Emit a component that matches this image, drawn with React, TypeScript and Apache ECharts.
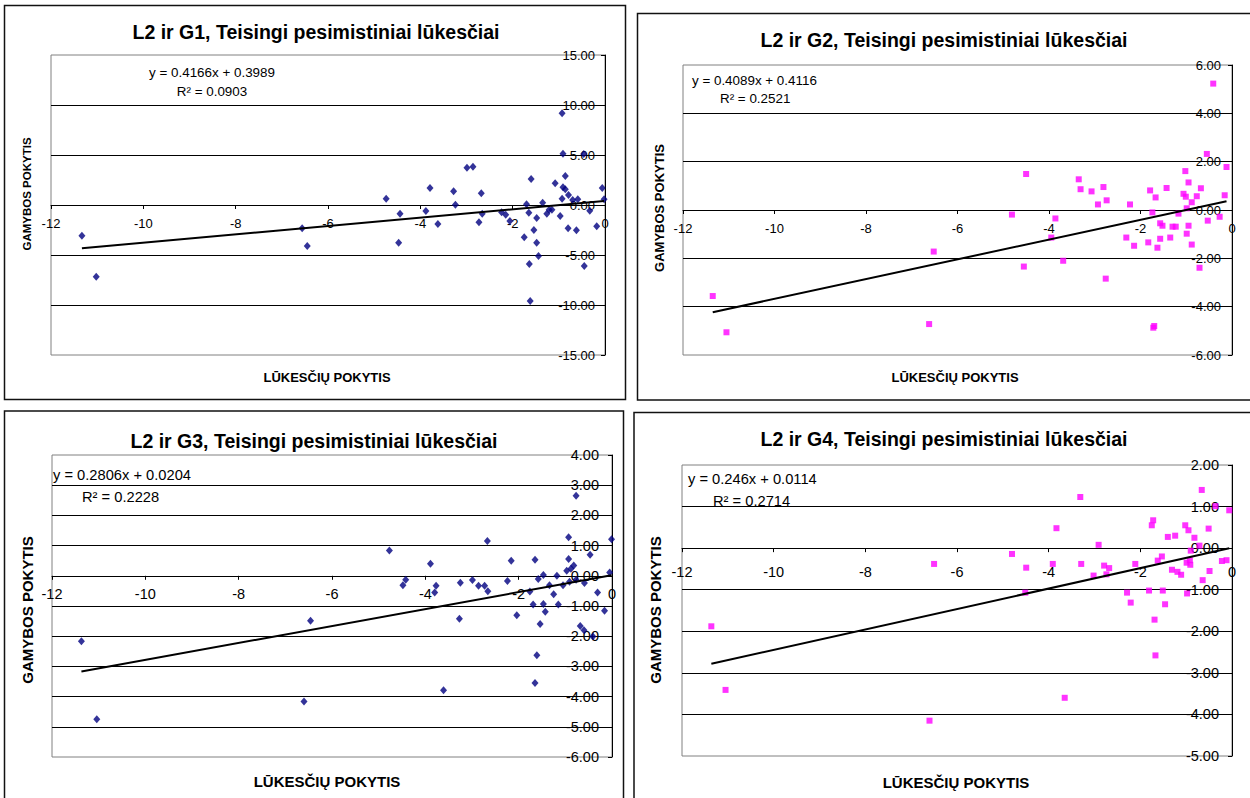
import React, { useEffect, useRef } from "react";
import * as echarts from "echarts";

// ---------------- DATA ----------------
const xMin = -12;
const xMax = 0;
const xInterval = 2;

const titles = [
  "L2 ir G1, Teisingi pesimistiniai lūkesčiai",
  "L2 ir G2, Teisingi pesimistiniai lūkesčiai",
  "L2 ir G3, Teisingi pesimistiniai lūkesčiai",
  "L2 ir G4, Teisingi pesimistiniai lūkesčiai",
];
const xAxisName = "LŪKESČIŲ POKYTIS";
const yAxisName = "GAMYBOS POKYTIS";

const equations = [
  "y = 0.4166x + 0.3989",
  "y = 0.4089x + 0.4116",
  "y = 0.2806x + 0.0204",
  "y = 0.246x + 0.0114",
];
const rSquared = ["R² = 0.0903", "R² = 0.2521", "R² = 0.2228", "R² = 0.2714"];
const slopes = [0.4166, 0.4089, 0.2806, 0.246];
const intercepts = [0.3989, 0.4116, 0.0204, 0.0114];

const yMins = [-15, -6, -6, -5];
const yMaxs = [15, 6, 4, 2];
const yIntervals = [5, 2, 1, 1];

const g1Points: [number, number][] = [
  [-11.33, -3.07], [-11.02, -7.17], [-6.56, -2.33], [-6.45, -4.1], [-4.74, 0.63],
  [-4.44, -0.87], [-4.47, -3.77], [-3.79, 1.7], [-3.88, -0.6], [-3.62, -1.9],
  [-3.28, 1.37], [-3.24, 0.03], [-2.99, 3.73], [-2.86, 3.83], [-2.68, 1.17],
  [-2.73, -1.73], [-2.66, -0.87], [-2.24, -0.73], [-2.15, -0.97], [-2.06, -1.6],
  [-1.75, -3.23], [-1.7, 0.07], [-1.6, 2.6], [-1.65, -0.77], [-1.54, -2.5],
  [-1.48, -1.3], [-1.48, -3.77], [-1.44, -5.1], [-1.64, -5.9], [-1.62, -9.6],
  [-1.35, 0.23], [-1.26, -0.87], [-1.21, -0.47], [-1.15, -0.47], [-1.08, 2.17],
  [-0.97, -1.1], [-0.93, 9.17], [-0.91, 5.13], [-0.91, 1.77], [-0.86, 1.57],
  [-0.86, 2.9], [-0.93, 0.63], [-0.79, 1.0], [-0.8, -2.33], [-0.7, 0.5],
  [-0.59, 0.57], [-0.62, -2.53], [-0.46, 5.1], [-0.45, -6.1], [-0.33, -0.57],
  [-0.18, -2.13], [-0.06, 1.7], [-0.02, 0.57],
];

const g2Points: [number, number][] = [
  [-11.35, -3.56], [-11.05, -5.06], [-6.52, -1.72], [-6.62, -4.72], [-4.81, -0.19],
  [-4.5, 1.49], [-4.55, -2.34], [-3.95, -1.14], [-3.86, -0.35], [-3.69, -2.1],
  [-3.35, 1.27], [-3.31, 0.86], [-3.07, 0.77], [-2.93, 0.23], [-2.81, 0.95],
  [-2.74, 0.4], [-2.76, -2.84], [-2.31, -1.14], [-2.23, 0.23], [-2.14, -1.48],
  [-1.83, -1.34], [-1.79, 0.81], [-1.74, -0.1], [-1.67, 0.52], [-1.63, -1.56],
  [-1.72, -4.87], [-1.7, -4.8], [-1.57, -0.55], [-1.52, -0.65], [-1.57, -1.19],
  [-1.43, 0.91], [-1.35, -1.14], [-1.3, -0.69], [-1.23, -0.69], [-1.17, -0.15],
  [-1.06, 0.67], [-1.02, 1.61], [-1.01, 0.55], [-0.99, 0.07], [-0.99, -0.98],
  [-0.95, 1.14], [-0.95, -0.65], [-0.88, 0.32], [-0.88, -1.43], [-0.77, 0.57],
  [-0.68, 0.9], [-0.71, -2.39], [-0.55, 2.32], [-0.53, -0.44], [-0.41, 5.23],
  [-0.27, -0.28], [-0.16, 0.61], [-0.12, 1.78],
];

const g3Points: [number, number][] = [
  [-11.37, -2.17], [-11.04, -4.75], [-6.46, -1.49], [-6.6, -4.16], [-4.77, 0.84],
  [-4.48, -0.31], [-4.42, -0.13], [-3.89, 0.4], [-3.8, -0.55], [-3.77, -0.33],
  [-3.61, -3.79], [-3.27, -1.42], [-3.25, -0.23], [-2.99, -0.14], [-2.86, -0.33],
  [-2.73, -0.33], [-2.66, -0.51], [-2.67, 1.15], [-2.24, -0.17], [-2.16, 0.5],
  [-2.04, -1.31], [-1.76, -0.52], [-1.69, -0.95], [-1.65, 0.53], [-1.65, -3.55],
  [-1.61, -2.63], [-1.58, -0.11], [-1.54, -1.6], [-1.47, 0.03], [-1.47, -0.93],
  [-1.43, -1.19], [-1.34, -0.31], [-1.25, -0.61], [-1.18, 0.0], [-1.15, -0.95],
  [-1.05, -0.31], [-0.97, 0.17], [-0.93, 1.28], [-0.93, 0.56], [-0.91, -0.2],
  [-0.88, 0.23], [-0.82, 0.34], [-0.77, 2.65], [-0.77, -0.13], [-0.68, -1.66],
  [-0.6, -1.8], [-0.59, -0.24], [-0.47, 0.7], [-0.41, -2.01], [-0.31, -0.55],
  [-0.16, -1.16], [-0.05, 0.11], [-0.01, 1.21],
];

const g4Points: [number, number][] = [
  [-11.36, -1.88], [-11.05, -3.41], [-6.5, -0.38], [-6.6, -4.15], [-4.8, -0.14],
  [-4.49, -0.47], [-4.51, -1.07], [-3.91, -0.38], [-3.83, 0.48], [-3.65, -3.6],
  [-3.31, 1.23], [-3.29, -0.38], [-3.02, -0.66], [-2.91, 0.08], [-2.79, -0.42],
  [-2.74, -0.63], [-2.68, -0.48], [-2.29, -1.07], [-2.21, -1.31], [-2.11, -0.38],
  [-1.81, -1.02], [-1.75, 0.55], [-1.72, 0.67], [-1.69, -1.72], [-1.67, -2.58],
  [-1.62, -0.3], [-1.53, -0.2], [-1.51, -1.02], [-1.46, -1.35], [-1.4, 0.27],
  [-1.31, -0.52], [-1.24, 0.3], [-1.19, -0.57], [-1.11, -0.64], [-1.02, 0.55],
  [-0.99, -0.35], [-0.98, -1.09], [-0.95, 0.43], [-0.92, -0.29], [-0.91, -0.4],
  [-0.9, -0.06], [-0.82, 0.25], [-0.71, 0.06], [-0.66, 1.4], [-0.64, -0.77],
  [-0.51, 0.47], [-0.49, -0.55], [-0.36, 1.01], [-0.22, -0.31], [-0.12, -0.29],
  [-0.06, 0.91],
];

const allPoints = [g1Points, g2Points, g3Points, g4Points];

// ---------------- LAYOUT / STYLE ----------------
const FONT = "'Liberation Sans', Arial, Helvetica, sans-serif";

type Layout = {
  box: [number, number, number, number];
  grid: [number, number, number, number];
  title: [number, number];
  eq: { x: number; y: number; align: "left" | "center" };
  r2: { x: number; y: number; align: "left" | "center" };
  eqSize: number;
  tickSize: number;
  xName: [number, number, number];
  yName: [number, number, number];
  xLabelMargin: number;
  yLabelMargin: number;
  color: string;
  symbol: string;
  symbolSize: number | number[];
};

const layouts: Layout[] = [
  {
    box: [4.5, 5.5, 621, 394],
    grid: [51, 55, 554, 300],
    title: [316, 32],
    eq: { x: 212, y: 72.5, align: "center" },
    r2: { x: 212, y: 91, align: "center" },
    eqSize: 13.4,
    tickSize: 13,
    xName: [327, 377, 13],
    yName: [27, 194, 11.5],
    xLabelMargin: 12,
    yLabelMargin: 10,
    color: "#000080",
    symbol: "diamond",
    symbolSize: [7, 8],
  },
  {
    box: [637.5, 13.5, 700, 386.5],
    grid: [683, 65, 549, 290],
    title: [944, 40],
    eq: { x: 692, y: 80.5, align: "left" },
    r2: { x: 720, y: 98.7, align: "left" },
    eqSize: 13.4,
    tickSize: 13,
    xName: [955, 377, 13],
    yName: [659, 208, 13],
    xLabelMargin: 12,
    yLabelMargin: 11,
    color: "#FF00FF",
    symbol: "rect",
    symbolSize: 6,
  },
  {
    box: [4.5, 411, 619, 420],
    grid: [52, 455, 560, 302],
    title: [314, 441],
    eq: { x: 53, y: 475, align: "left" },
    r2: { x: 82, y: 497, align: "left" },
    eqSize: 14.7,
    tickSize: 14.5,
    xName: [327, 781, 15],
    yName: [27, 610, 15],
    xLabelMargin: 11,
    yLabelMargin: 13,
    color: "#000080",
    symbol: "diamond",
    symbolSize: [7, 8],
  },
  {
    box: [634, 412.5, 700, 420],
    grid: [682, 465, 550, 291],
    title: [944, 438.5],
    eq: { x: 688, y: 479, align: "left" },
    r2: { x: 713, y: 501, align: "left" },
    eqSize: 14.7,
    tickSize: 14.5,
    xName: [956, 782, 15],
    yName: [655, 610, 15],
    xLabelMargin: 16,
    yLabelMargin: 13,
    color: "#FF00FF",
    symbol: "rect",
    symbolSize: 6,
  },
];

function buildOption() {
  const grids: any[] = [];
  const xAxes: any[] = [];
  const yAxes: any[] = [];
  const series: any[] = [];
  const graphics: any[] = [];

  layouts.forEach((L, i) => {
    const gridH = L.grid[3];
    // distance (px) from the grid bottom up to the y = 0 line
    const zeroFromBottom = (gridH * (0 - yMins[i])) / (yMaxs[i] - yMins[i]);

    grids.push({
      left: L.grid[0],
      top: L.grid[1],
      width: L.grid[2],
      height: gridH,
      show: true,
      borderColor: "#808080",
      borderWidth: 1,
      backgroundColor: "transparent",
      containLabel: false,
    });
    xAxes.push({
      gridIndex: i,
      type: "value",
      position: "bottom",
      offset: -zeroFromBottom,
      min: xMin,
      max: xMax,
      interval: xInterval,
      axisLine: { show: true, onZero: false, lineStyle: { color: "#000", width: 1 } },
      axisTick: { show: true, inside: false, length: 4, lineStyle: { color: "#000" } },
      axisLabel: {
        show: true,
        color: "#000",
        fontFamily: FONT,
        fontSize: L.tickSize,
        margin: L.xLabelMargin,
        showMinLabel: true,
        showMaxLabel: true,
        formatter: (v: number) => String(v),
      },
      splitLine: { show: false },
    });
    yAxes.push({
      gridIndex: i,
      type: "value",
      position: "right",
      min: yMins[i],
      max: yMaxs[i],
      interval: yIntervals[i],
      axisLine: { show: true, onZero: false, lineStyle: { color: "#000", width: 1 } },
      axisTick: { show: true, inside: true, length: 4, lineStyle: { color: "#000" } },
      axisLabel: {
        show: true,
        inside: true,
        color: "#000",
        fontFamily: FONT,
        fontSize: L.tickSize,
        margin: L.yLabelMargin,
        showMinLabel: true,
        showMaxLabel: true,
        formatter: (v: number) => v.toFixed(2),
      },
      splitLine: {
        show: true,
        showMinLine: false,
        showMaxLine: false,
        lineStyle: { color: "#000", width: 1 },
      },
    });

    const pts = allPoints[i];
    const xs = pts.map((p) => p[0]);
    const lo = Math.min(...xs);
    const hi = Math.max(...xs);
    series.push({
      type: "scatter",
      xAxisIndex: i,
      yAxisIndex: i,
      data: pts,
      symbol: L.symbol,
      symbolSize: L.symbolSize,
      itemStyle: { color: L.color },
      z: 2,
    });
    series.push({
      type: "line",
      xAxisIndex: i,
      yAxisIndex: i,
      data: [
        [lo, slopes[i] * lo + intercepts[i]],
        [hi, slopes[i] * hi + intercepts[i]],
      ],
      symbol: "none",
      lineStyle: { color: "#000", width: 2 },
      z: 3,
    });

    graphics.push({
      type: "rect",
      shape: { x: L.box[0], y: L.box[1], width: L.box[2], height: L.box[3] },
      style: { fill: "none", stroke: "#111", lineWidth: 1.5 },
      z: 10,
    });
    graphics.push({
      type: "text",
      x: L.title[0],
      y: L.title[1],
      style: {
        text: titles[i],
        fill: "#000",
        font: `bold 19.5px ${FONT}`,
        align: "center",
        verticalAlign: "middle",
      },
      z: 10,
    });
    graphics.push({
      type: "text",
      x: L.eq.x,
      y: L.eq.y,
      style: {
        text: equations[i],
        fill: "#000",
        font: `${L.eqSize}px ${FONT}`,
        align: L.eq.align,
        verticalAlign: "middle",
      },
      z: 10,
    });
    graphics.push({
      type: "text",
      x: L.r2.x,
      y: L.r2.y,
      style: {
        text: rSquared[i],
        fill: "#000",
        font: `${L.eqSize}px ${FONT}`,
        align: L.r2.align,
        verticalAlign: "middle",
      },
      z: 10,
    });
    graphics.push({
      type: "text",
      x: L.xName[0],
      y: L.xName[1],
      style: {
        text: xAxisName,
        fill: "#000",
        font: `bold ${L.xName[2]}px ${FONT}`,
        align: "center",
        verticalAlign: "middle",
      },
      z: 10,
    });
    graphics.push({
      type: "text",
      x: L.yName[0],
      y: L.yName[1],
      rotation: Math.PI / 2,
      style: {
        text: yAxisName,
        fill: "#000",
        font: `bold ${L.yName[2]}px ${FONT}`,
        align: "center",
        verticalAlign: "middle",
      },
      z: 10,
    });
  });

  return {
    animation: false,
    backgroundColor: "#fff",
    grid: grids,
    xAxis: xAxes,
    yAxis: yAxes,
    series,
    graphic: { elements: graphics },
  };
}

export default function App() {
  const ref = useRef<HTMLDivElement>(null);
  useEffect(() => {
    if (!ref.current) return;
    const chart = echarts.init(ref.current, undefined, { renderer: "svg" });
    chart.setOption(buildOption() as any);
    return () => chart.dispose();
  }, []);
  return (
    <div
      ref={ref}
      style={{ position: "absolute", left: 0, top: 0, width: 1250, height: 798, background: "#fff" }}
    />
  );
}
